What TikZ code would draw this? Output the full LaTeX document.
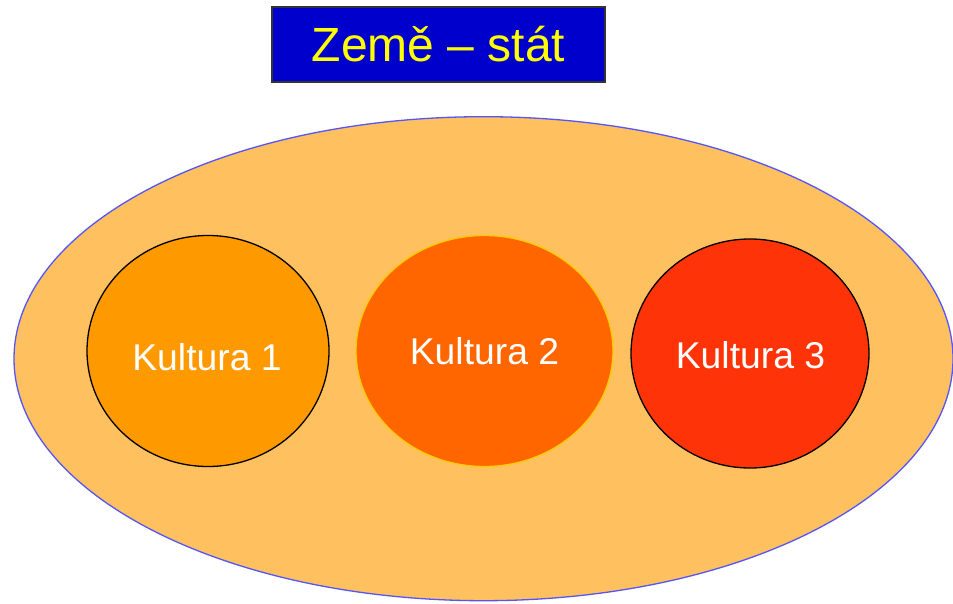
\documentclass[tikz,border=0pt]{standalone}
\usepackage{fontspec}
\setmainfont{Liberation Sans}
\usetikzlibrary{shapes.geometric}
\definecolor{stateFill}{RGB}{255,192,96}
\definecolor{stateLine}{RGB}{85,85,250}
\definecolor{kOne}{RGB}{255,153,0}
\definecolor{kTwo}{RGB}{255,102,0}
\definecolor{kTwoLine}{RGB}{255,204,0}
\definecolor{kThree}{RGB}{255,51,8}
\definecolor{titleFill}{RGB}{0,0,204}
\definecolor{titleText}{RGB}{255,255,0}
\tikzset{
  oval/.style={ellipse, inner sep=0pt, line width=1.3pt},
  kulttext/.style={text=white, font=\fontsize{37.3}{41}\selectfont, inner sep=0pt},
}
\begin{document}
\begin{tikzpicture}[x=1pt,y=-1pt]
\useasboundingbox (0,0) rectangle (953,604);
\fill[white] (0,0) rectangle (953,604);
% title
\node[draw=black!80, line width=1.5pt, fill=titleFill, minimum width=333pt, minimum height=75pt,
      inner sep=0pt, text=titleText, font=\fontsize{48}{52}\selectfont] (title) at (438.5,44.5) {Země – stát};
% country ellipse
\node[oval, draw=stateLine, fill=stateFill, minimum width=939pt, minimum height=484pt] (state) at (483.5,358.7) {};
% cultures
\node[oval, draw=black, fill=kOne, minimum width=242pt, minimum height=231pt] (k1) at (208,351) {};
\node[oval, draw=kTwoLine, fill=kTwo, minimum width=257pt, minimum height=231pt] (k2) at (484.5,351) {};
\node[oval, draw=black, fill=kThree, minimum width=238pt, minimum height=229pt] (k3) at (750,353.5) {};
\node[kulttext] (t1) at (207,357) {Kultura 1};
\node[kulttext] (t2) at (484.5,351.5) {Kultura 2};
\node[kulttext] (t3) at (750.5,355) {Kultura 3};
\end{tikzpicture}
\end{document}
